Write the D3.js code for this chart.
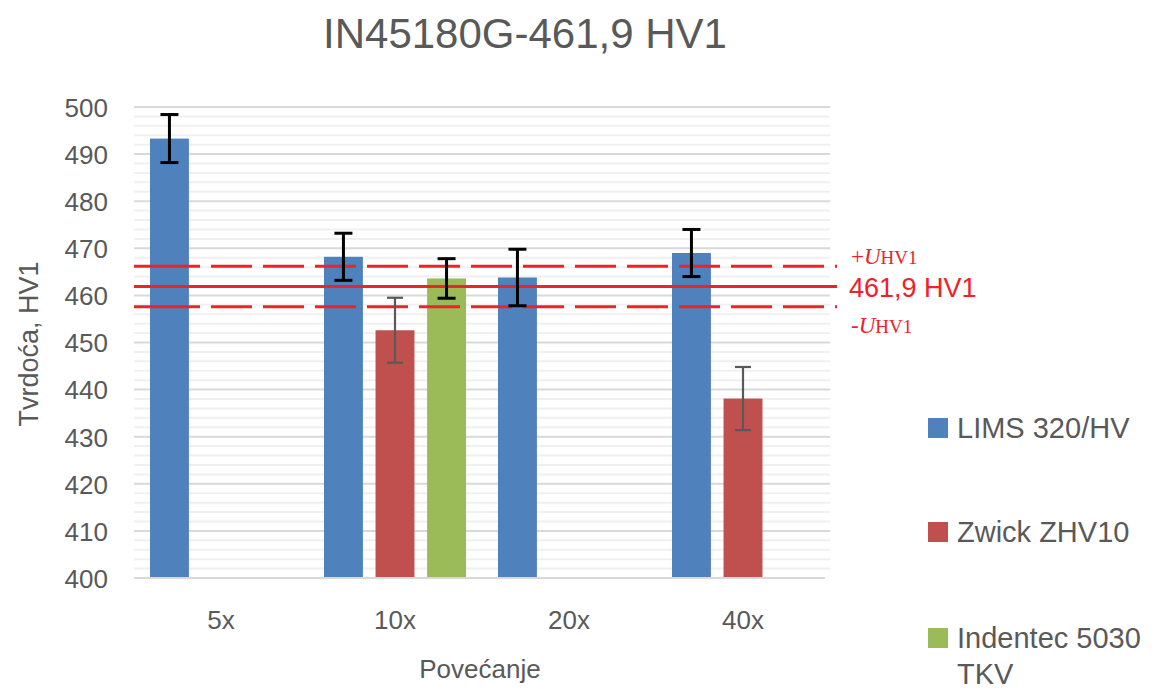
<!DOCTYPE html>
<html><head><meta charset="utf-8">
<script src="https://cdn.jsdelivr.net/npm/d3@7"></script>
<style>body{margin:0;background:#fff}svg{display:block}</style>
</head><body>
<svg id="chart" width="1161" height="691"></svg>
<script>
const title = "IN45180G-461,9 HV1";
const categories = ["5x", "10x", "20x", "40x"];
const seriesNames = ["LIMS 320/HV", "Zwick ZHV10", "Indentec 5030 TKV"];
const limsValues = [493.3, 468.2, 463.8, 469.0];
const limsErrors = [5.1, 5.0, 6.0, 5.0];
const zwickValues = [null, 452.6, null, 438.1];
const zwickErrors = [null, 6.9, null, 6.7];
const indentecValues = [null, 463.6, null, null];
const indentecErrors = [null, 4.2, null, null];
const yTicks = [400, 410, 420, 430, 440, 450, 460, 470, 480, 490, 500];
const refValue = 461.9;
const refU = 4.3;

(function () {
const colors = ["#4f81bd", "#c0504d", "#9bbb59"];
const errColors = ["#000000", "#595959", "#000000"];
const errWidths = [3, 2.2, 3];

const svg = d3.select("#chart");
const W = 1161, H = 691;
svg.append("rect").attr("width", W).attr("height", H).attr("fill", "#fff");

const pLeft = 134, pRight = 830, pTop = 107, pBottom = 578;
const y = d3.scaleLinear().domain([400, 500]).range([pBottom, pTop]);
const x0 = d3.scaleBand().domain(categories).range([pLeft, pRight]).padding(0);
const x1 = d3.scaleBand().domain(seriesNames).range([0, x0.bandwidth()])
  .paddingInner(0.245).paddingOuter(0.31);

// gridlines
const minor = d3.range(402, 500, 2).filter(v => v % 10 !== 0);
svg.append("g").selectAll("line").data(minor).join("line")
  .attr("x1", pLeft).attr("x2", pRight)
  .attr("y1", d => y(d)).attr("y2", d => y(d))
  .attr("stroke", "#f0f0f0").attr("stroke-width", 2);
svg.append("g").selectAll("line").data(yTicks.filter(v => v !== 400)).join("line")
  .attr("x1", pLeft).attr("x2", pRight)
  .attr("y1", d => y(d)).attr("y2", d => y(d))
  .attr("stroke", "#d9d9d9").attr("stroke-width", 2);

// y axis labels
const yAxis = d3.axisLeft(y).tickValues(yTicks).tickSize(0).tickPadding(0);
const yg = svg.append("g").attr("transform", `translate(${pLeft - 26},0)`).call(yAxis);
yg.select(".domain").remove();
yg.selectAll("text").attr("fill", "#595959").attr("font-family", "Liberation Sans, Arial, sans-serif")
  .attr("font-size", 26).attr("dy", "0.36em");

// bars
const seriesData = [
  { name: seriesNames[0], values: limsValues, errors: limsErrors },
  { name: seriesNames[1], values: zwickValues, errors: zwickErrors },
  { name: seriesNames[2], values: indentecValues, errors: indentecErrors }
];
const barData = [];
seriesData.forEach((s, si) => {
  s.values.forEach((v, ci) => {
    if (v != null) barData.push({ cat: categories[ci], name: s.name, si, v, e: s.errors[ci] });
  });
});

svg.append("g").selectAll("rect").data(barData).join("rect")
  .attr("x", d => x0(d.cat) + x1(d.name))
  .attr("width", x1.bandwidth())
  .attr("y", d => y(d.v))
  .attr("height", d => y(400) - y(d.v))
  .attr("fill", d => colors[d.si]);

// x axis line
svg.append("line").attr("x1", pLeft).attr("x2", pRight - 5)
  .attr("y1", pBottom).attr("y2", pBottom)
  .attr("stroke", "#d9d9d9").attr("stroke-width", 2);

// reference lines
const refG = svg.append("g");
const lineEnd = 837;
refG.append("line").attr("x1", pLeft).attr("x2", lineEnd)
  .attr("y1", y(refValue)).attr("y2", y(refValue))
  .attr("stroke", "#ee2229").attr("stroke-width", 3);
const dash = [66, 11].concat(d3.range(20).flatMap(() => [41, 11])).join(",");
[refValue + refU, refValue - refU].forEach(v => {
  refG.append("line").attr("x1", pLeft).attr("x2", lineEnd)
    .attr("y1", y(v)).attr("y2", y(v))
    .attr("stroke", "#ee2229").attr("stroke-width", 3)
    .attr("stroke-dasharray", dash);
});

// error bars
const eg = svg.append("g");
barData.forEach(d => {
  const cx = x0(d.cat) + x1(d.name) + x1.bandwidth() / 2;
  const col = errColors[d.si], sw = errWidths[d.si];
  const cap = d.si === 1 ? 8 : 9;
  eg.append("line").attr("x1", cx).attr("x2", cx).attr("y1", y(d.v + d.e)).attr("y2", y(d.v - d.e))
    .attr("stroke", col).attr("stroke-width", sw);
  [d.v + d.e, d.v - d.e].forEach(v => {
    eg.append("line").attr("x1", cx - cap).attr("x2", cx + cap).attr("y1", y(v)).attr("y2", y(v))
      .attr("stroke", col).attr("stroke-width", sw);
  });
});

// ref labels
const lab = svg.append("g").attr("fill", "#ee2229");
function uLabel(sign, yy) {
  const t = lab.append("text").attr("x", 851).attr("y", yy)
    .attr("font-family", "Liberation Serif, Times New Roman, serif").attr("font-size", 23);
  t.append("tspan").text(sign);
  t.append("tspan").attr("font-style", "italic").text("U");
  t.append("tspan").attr("font-size", 19).text("HV1");
}
uLabel("+", 264);
lab.append("text").attr("x", 849).attr("y", 297)
  .attr("font-family", "Liberation Sans, Arial, sans-serif").attr("font-size", 27)
  .text(refValue.toString().replace(".", ",") + " HV1");
uLabel("-", 333);

// x labels
svg.append("g").selectAll("text").data(categories).join("text")
  .attr("x", d => x0(d) + x0.bandwidth() / 2).attr("y", 629)
  .attr("text-anchor", "middle").attr("fill", "#595959")
  .attr("font-family", "Liberation Sans, Arial, sans-serif").attr("font-size", 26)
  .text(d => d);

// axis titles
svg.append("text").attr("x", 480).attr("y", 678).attr("text-anchor", "middle")
  .attr("fill", "#595959").attr("font-family", "Liberation Sans, Arial, sans-serif")
  .attr("font-size", 26).text("Povećanje");
svg.append("text").attr("transform", "translate(38,344) rotate(-90)").attr("text-anchor", "middle")
  .attr("fill", "#595959").attr("font-family", "Liberation Sans, Arial, sans-serif")
  .attr("font-size", 27).text("Tvrdoća, HV1");

// title
svg.append("text").attr("x", 525).attr("y", 48).attr("text-anchor", "middle")
  .attr("fill", "#595959").attr("font-family", "Liberation Sans, Arial, sans-serif")
  .attr("font-size", 42).text(title);

// legend
const legendY = [428, 532, 638];
const lg = svg.append("g");
seriesNames.forEach((n, i) => {
  lg.append("rect").attr("x", 928).attr("y", legendY[i] - 10).attr("width", 20).attr("height", 20)
    .attr("fill", colors[i]);
  const t = lg.append("text").attr("x", 957).attr("y", legendY[i] + 10)
    .attr("fill", "#595959").attr("font-family", "Liberation Sans, Arial, sans-serif").attr("font-size", 29);
  if (i === 2) {
    t.append("tspan").attr("x", 957).text("Indentec 5030");
    t.append("tspan").attr("x", 957).attr("dy", 36).text("TKV");
  } else t.text(n);
});
})();
</script>
</body></html>
